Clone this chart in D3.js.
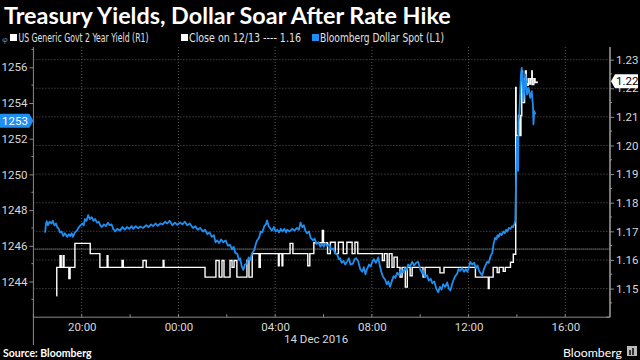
<!DOCTYPE html>
<html><head><meta charset="utf-8">
<script src="https://cdn.jsdelivr.net/npm/d3@7"></script>
<style>
html,body{margin:0;padding:0;background:#000;}
svg{display:block;}
text{font-family:"Open Sans","Noto Sans",sans-serif;}
</style></head>
<body>
<svg id="chart" width="640" height="360"></svg>
<script>
// ---------- DATA ----------
const title = "Treasury Yields, Dollar Soar After Rate Hike";
const legendLabels = ["US Generic Govt 2 Year Yield  (R1)", "Close on 12/13 ---- 1.16", "Bloomberg Dollar Spot  (L1)"];
const xTickTimes = ["13 20:00","14 00:00","14 04:00","14 08:00","14 12:00","14 16:00"];
const xMinorTimes = ["13 18:00","13 22:00","14 02:00","14 06:00","14 10:00","14 14:00"];
const dateLabel = "14 Dec 2016";
const leftTicks = [1244,1246,1248,1250,1252,1254,1256];
const leftMinor = [1243,1245,1247,1249,1251,1253,1255,1257];
const rightTicks = [1.15,1.16,1.17,1.18,1.19,1.20,1.21,1.22,1.23];
const rightMinor = [1.145,1.155,1.165,1.175,1.185,1.195,1.205,1.215,1.225];
const closeValue = 1.1638;
const lastDollar = 1253;
const lastYield = 1.22;

const dollarTimes = ["13 18:29","13 18:31","13 18:33","13 18:36","13 18:40","13 18:45","13 18:48","13 18:52","13 18:56","13 18:59","13 19:03","13 19:06","13 19:10","13 19:14","13 19:18","13 19:24","13 19:28","13 19:31","13 19:35","13 19:38","13 19:43","13 19:48","13 19:53","13 20:01","13 20:05","13 20:08","13 20:12","13 20:16","13 20:20","13 20:25","13 20:29","13 20:33","13 20:38","13 20:42","13 20:46","13 20:50","13 20:55","13 21:00","13 21:05","13 21:09","13 21:14","13 21:18","13 21:23","13 21:28","13 21:35","13 21:41","13 21:47","13 21:52","13 21:58","13 22:04","13 22:08","13 22:14","13 22:20","13 22:25","13 22:32","13 22:40","13 22:46","13 22:52","13 22:57","13 23:03","13 23:09","13 23:15","13 23:21","13 23:27","13 23:32","13 23:38","13 23:45","13 23:51","13 23:57","14 00:04","14 00:10","14 00:16","14 00:22","14 00:28","14 00:36","14 00:42","14 00:48","14 00:54","14 01:01","14 01:06","14 01:12","14 01:17","14 01:23","14 01:28","14 01:32","14 01:36","14 01:41","14 01:46","14 01:51","14 01:57","14 02:03","14 02:08","14 02:13","14 02:17","14 02:21","14 02:26","14 02:30","14 02:33","14 02:37","14 02:41","14 02:45","14 02:50","14 02:54","14 02:58","14 03:03","14 03:08","14 03:12","14 03:15","14 03:20","14 03:24","14 03:28","14 03:33","14 03:37","14 03:40","14 03:44","14 03:47","14 03:52","14 03:57","14 04:01","14 04:05","14 04:10","14 04:14","14 04:18","14 04:23","14 04:27","14 04:30","14 04:36","14 04:42","14 04:48","14 04:54","14 04:59","14 05:03","14 05:07","14 05:11","14 05:15","14 05:19","14 05:24","14 05:28","14 05:34","14 05:38","14 05:43","14 05:48","14 05:52","14 05:57","14 06:01","14 06:05","14 06:09","14 06:14","14 06:19","14 06:24","14 06:29","14 06:34","14 06:38","14 06:41","14 06:45","14 06:50","14 06:54","14 06:58","14 07:03","14 07:07","14 07:13","14 07:17","14 07:21","14 07:26","14 07:31","14 07:36","14 07:40","14 07:44","14 07:48","14 07:53","14 07:57","14 08:01","14 08:05","14 08:10","14 08:16","14 08:20","14 08:24","14 08:28","14 08:33","14 08:37","14 08:41","14 08:45","14 08:50","14 08:54","14 08:58","14 09:03","14 09:08","14 09:12","14 09:17","14 09:22","14 09:26","14 09:30","14 09:35","14 09:40","14 09:45","14 09:50","14 09:55","14 10:00","14 10:05","14 10:08","14 10:12","14 10:17","14 10:21","14 10:26","14 10:30","14 10:35","14 10:40","14 10:45","14 10:49","14 10:53","14 10:57","14 11:02","14 11:07","14 11:11","14 11:15","14 11:19","14 11:23","14 11:27","14 11:32","14 11:35","14 11:39","14 11:44","14 11:49","14 11:53","14 11:57","14 12:01","14 12:04","14 12:09","14 12:14","14 12:18","14 12:22","14 12:26","14 12:30","14 12:34","14 12:38","14 12:42","14 12:46","14 12:50","14 12:55","14 12:59","14 13:02","14 13:06","14 13:09","14 13:12","14 13:15","14 13:18","14 13:22","14 13:26","14 13:30","14 13:33","14 13:36","14 13:40","14 13:44","14 13:48","14 13:51","14 13:54","14 13:56","14 13:59","14 14:00","14 14:03","14 14:04","14 14:06","14 14:10","14 14:12","14 14:15","14 14:16","14 14:21","14 14:25","14 14:29","14 14:33","14 14:37","14 14:40","14 14:41","14 14:43","14 14:46"];
const dollarValues = [1246.74,1247.2,1247.38,1247.15,1247.35,1247.25,1247.4,1247.15,1247.25,1247.05,1246.95,1246.75,1246.8,1246.55,1246.7,1246.5,1246.65,1246.55,1246.7,1246.5,1246.75,1246.85,1247.05,1247.25,1247.15,1247.5,1247.4,1247.72,1247.5,1247.6,1247.4,1247.5,1247.3,1247.35,1247.15,1247.05,1247.2,1247.1,1247.3,1247.15,1247.2,1246.95,1246.8,1246.95,1246.85,1247.05,1246.9,1247.05,1246.95,1247.1,1246.95,1247.1,1246.98,1247.08,1247.0,1247.15,1247.05,1247.2,1247.1,1247.25,1247.12,1247.25,1247.2,1247.35,1247.25,1247.4,1247.15,1247.3,1247.18,1247.3,1247.2,1247.35,1247.15,1247.25,1247.0,1247.1,1246.9,1247.0,1246.8,1246.9,1246.65,1246.75,1246.5,1246.6,1246.2,1246.3,1246.15,1246.35,1246.2,1246.3,1246.0,1246.05,1245.8,1245.95,1245.6,1245.55,1245.2,1245.3,1244.85,1244.65,1244.95,1245.0,1245.35,1245.2,1245.6,1245.75,1246.1,1246.3,1246.45,1246.8,1246.75,1247.1,1247.2,1247.42,1247.1,1247.0,1246.85,1247.05,1246.8,1246.9,1246.75,1246.95,1246.8,1246.95,1246.75,1246.9,1246.8,1246.95,1246.85,1247.0,1246.9,1247.3,1247.05,1247.15,1246.85,1246.7,1246.8,1246.45,1246.3,1246.4,1246.1,1246.2,1245.95,1246.1,1245.95,1246.15,1246.0,1246.1,1245.8,1245.85,1245.6,1245.5,1245.25,1245.3,1245.05,1245.15,1244.95,1245.1,1245.3,1244.95,1245.0,1245.25,1245.3,1245.15,1244.7,1244.55,1244.8,1244.4,1244.7,1244.95,1244.85,1245.1,1245.25,1245.05,1245.35,1244.85,1244.5,1244.25,1244.1,1243.85,1244.0,1243.7,1244.05,1244.3,1244.2,1244.5,1244.35,1244.65,1244.5,1244.75,1244.6,1244.95,1244.85,1245.1,1244.9,1245.05,1245.1,1244.7,1244.45,1244.6,1244.25,1244.35,1244.05,1244.15,1243.9,1244.0,1243.6,1243.4,1243.7,1243.55,1243.85,1243.7,1243.95,1243.6,1243.5,1243.85,1244.1,1244.3,1244.45,1244.7,1244.6,1244.75,1244.55,1244.7,1244.55,1244.8,1245.1,1244.95,1245.05,1244.75,1244.9,1244.6,1244.45,1244.35,1244.7,1244.9,1245.1,1245.05,1245.45,1245.6,1246.1,1246.45,1246.35,1246.6,1246.5,1246.7,1246.6,1246.8,1246.7,1246.9,1246.8,1247.0,1246.95,1247.1,1247.05,1247.25,1247.4,1251.1,1252.07,1250.2,1252.98,1253.36,1255.6,1255.97,1254.87,1254.1,1255.6,1254.48,1254.85,1254.29,1254.66,1253.75,1252.8,1253.54,1253.36];

const yieldTimes = ["13 18:57","13 18:58","13 19:06","13 19:09","13 19:14","13 19:16","13 19:28","13 19:31","13 19:43","13 20:21","13 20:45","13 21:03","13 21:05","13 21:40","13 21:43","13 22:32","13 22:40","13 23:22","13 23:24","14 01:06","14 01:33","14 01:41","14 01:48","14 01:53","14 02:08","14 02:13","14 02:18","14 02:25","14 02:50","14 02:55","14 03:03","14 03:20","14 03:23","14 04:08","14 04:10","14 04:17","14 04:19","14 04:37","14 04:44","14 05:21","14 05:26","14 05:36","14 05:57","14 06:00","14 06:10","14 06:17","14 06:29","14 06:37","14 06:49","14 06:58","14 07:11","14 07:18","14 07:25","14 08:26","14 08:31","14 08:38","14 08:43","14 08:50","14 08:55","14 09:03","14 09:10","14 09:15","14 09:23","14 09:28","14 09:35","14 09:40","14 10:07","14 10:12","14 10:49","14 10:59","14 12:17","14 12:49","14 12:51","14 13:01","14 13:11","14 13:16","14 13:26","14 13:31","14 13:44","14 13:51","14 13:57","14 13:58","14 14:04","14 14:07","14 14:10","14 14:12","14 14:14","14 14:16","14 14:19","14 14:21","14 14:23","14 14:25","14 14:28","14 14:30","14 14:34","14 14:37","14 14:38","14 14:42","14 14:45","14 14:50"];
const yieldValues = [1.1475,1.1574,1.1615,1.1574,1.1615,1.1574,1.1535,1.1574,1.1658,1.1622,1.1574,1.1615,1.1574,1.1598,1.1574,1.1598,1.1574,1.1598,1.1574,1.154,1.1598,1.154,1.1598,1.154,1.1598,1.1574,1.1598,1.154,1.1598,1.154,1.1622,1.1574,1.1622,1.158,1.1622,1.158,1.1622,1.1658,1.1622,1.158,1.1622,1.166,1.1703,1.166,1.1622,1.1662,1.1622,1.1662,1.1622,1.1662,1.1622,1.1662,1.1622,1.1598,1.1622,1.1574,1.1622,1.1574,1.161,1.1574,1.154,1.1574,1.1505,1.1574,1.1545,1.1574,1.154,1.1574,1.1555,1.1574,1.154,1.150,1.154,1.1574,1.1556,1.1574,1.156,1.1574,1.1592,1.162,1.2203,1.2035,1.2105,1.2035,1.2105,1.226,1.2195,1.215,1.2233,1.226,1.2215,1.221,1.2233,1.2215,1.2233,1.226,1.2213,1.2233,1.222,1.2224];

// ---------- HELPERS ----------
function parseT(s){const [d,hm]=s.split(" ");const [h,m]=hm.split(":").map(Number);return new Date(2016,11,+d,h,m);}

const svg = d3.select("#chart");
const L = 33.4, R = 610, T = 47, B = 317.2;

const x = d3.scaleTime().domain([parseT("13 18:00"), parseT("14 17:51")]).range([L, R]);
const yL = d3.scaleLinear().domain([1242, 1242 + (B - T) / 17.85]).range([B, T]);
const yR = d3.scaleLinear().domain([1.14, 1.14 + (B - T) / 2862]).range([B, T]);

const grid = "#5a5a5a", axisCol = "#8a8a8a", labelCol = "#d8d8d8";
const tickFont = "Roboto, sans-serif";

// grid lines
svg.append("g").selectAll("line").data(rightTicks).join("line")
  .attr("x1", L).attr("x2", R).attr("y1", d => yR(d)).attr("y2", d => yR(d))
  .attr("stroke", grid).attr("stroke-dasharray", "1,2").attr("stroke-width", 1);
svg.append("g").selectAll("line").data(xTickTimes.map(parseT)).join("line")
  .attr("x1", d => x(d)).attr("x2", d => x(d)).attr("y1", T).attr("y2", B)
  .attr("stroke", grid).attr("stroke-dasharray", "1,2").attr("stroke-width", 1);

// close line
svg.append("line").attr("x1", L).attr("x2", R).attr("y1", yR(closeValue)).attr("y2", yR(closeValue))
  .attr("stroke", "#c8c8c8").attr("stroke-dasharray", "1,1").attr("stroke-width", 1);

// series
const yieldData = yieldTimes.map((t, i) => ({t: parseT(t), v: yieldValues[i]}));
const dollarData = dollarTimes.map((t, i) => ({t: parseT(t), v: dollarValues[i]}));

svg.append("path").datum(yieldData)
  .attr("d", d3.line().x(d => x(d.t)).y(d => yR(d.v)).curve(d3.curveStepAfter))
  .attr("fill", "none").attr("stroke", "#ffffff").attr("stroke-width", 1.4);
svg.append("path").datum(dollarData)
  .attr("d", d3.line().x(d => x(d.t)).y(d => yL(d.v)))
  .attr("fill", "none").attr("stroke", "#1f8ef1").attr("stroke-width", 1.8).attr("stroke-linejoin", "round");

// left axis
const gL = svg.append("g").attr("transform", `translate(${L},0)`)
  .call(d3.axisLeft(yL).tickValues(leftTicks).tickSize(4).tickPadding(2).tickFormat(d3.format("d")));
gL.select(".domain").remove();
gL.selectAll(".tick line").attr("stroke", axisCol);
gL.selectAll(".tick text").attr("fill", labelCol).style("font-size", "11.5px").style("font-family", tickFont);
svg.append("g").selectAll("line").data(leftMinor.filter(d => yL(d) >= T)).join("line")
  .attr("x1", L - 2).attr("x2", L).attr("y1", d => yL(d)).attr("y2", d => yL(d)).attr("stroke", axisCol);
svg.append("line").attr("x1", L).attr("x2", L).attr("y1", T).attr("y2", 345).attr("stroke", axisCol);

// right axis
const gR = svg.append("g").attr("transform", `translate(${R},0)`)
  .call(d3.axisRight(yR).tickValues(rightTicks).tickSize(4).tickPadding(2).tickFormat(d3.format(".2f")));
gR.select(".domain").remove();
gR.selectAll(".tick line").attr("stroke", axisCol);
gR.selectAll(".tick text").attr("fill", labelCol).style("font-size", "11.5px").style("font-family", tickFont);
svg.append("g").selectAll("line").data(rightMinor).join("line")
  .attr("x1", R).attr("x2", R + 2).attr("y1", d => yR(d)).attr("y2", d => yR(d)).attr("stroke", axisCol);
svg.append("line").attr("x1", R).attr("x2", R).attr("y1", T).attr("y2", B).attr("stroke", "#a0a0a0").attr("stroke-width", 1.5);
svg.append("line").attr("x1", R - 4).attr("x2", R).attr("y1", B).attr("y2", B).attr("stroke", "#a0a0a0");

// x axis
svg.append("line").attr("x1", L).attr("x2", R).attr("y1", B).attr("y2", B).attr("stroke", axisCol);
const gX = svg.append("g").attr("transform", `translate(0,${B})`)
  .call(d3.axisBottom(x).tickValues(xTickTimes.map(parseT)).tickSize(0).tickPadding(6).tickFormat(d3.timeFormat("%H:%M")));
gX.select(".domain").remove();
gX.selectAll(".tick text").attr("fill", labelCol).style("font-size", "11.5px").style("font-family", tickFont);
svg.append("g").selectAll("line").data(xMinorTimes.map(parseT).concat(xTickTimes.map(parseT))).join("line")
  .attr("x1", d => x(d)).attr("x2", d => x(d)).attr("y1", B).attr("y2", B - 3).attr("stroke", axisCol);
svg.append("text").attr("x", x(parseT("14 04:00")) + 41).attr("y", 343).attr("text-anchor", "middle")
  .attr("fill", labelCol).style("font-size", "11.5px").style("font-family", tickFont).text(dateLabel);

// value badges
const yb = yL(lastDollar);
svg.append("path").attr("d", `M0,${yb - 7}H${L - 4}L${L},${yb}L${L - 4},${yb + 7}H0Z`).attr("fill", "#1f8ef1");
svg.append("text").attr("x", 2).attr("y", yb + 4).attr("fill", "#fff").style("font-size", "11.5px")
  .style("font-family", tickFont).text(d3.format("d")(lastDollar));
const yr = yR(1.2224);
svg.append("path").attr("d", `M${R + 1},${yr}L${R + 5},${yr - 7}H638V${yr + 7}H${R + 5}Z`).attr("fill", "#fff");
svg.append("text").attr("x", R + 6).attr("y", yr + 4).attr("fill", "#000").style("font-size", "11.5px")
  .style("font-family", tickFont).text(d3.format(".2f")(lastYield));

// title
function fit(sel, w){const n = sel.node(); const cur = n.getComputedTextLength(); const fs = parseFloat(sel.style("font-size")); sel.style("font-size", (fs * w / cur) + "px");}
const tt = svg.append("text").attr("x", 4).attr("y", 24).attr("fill", "#fff")
  .style("font-family", "Lato, sans-serif").style("font-weight", "bold").style("font-size", "21px").text(title);
fit(tt, 447);

// legend
const legX = [{sq: 10, tx: 18.5, w: 130, col: "#fff"}, {sq: 181, tx: 189, w: 112, col: "#fff"}, {sq: 312, tx: 320, w: 124, col: "#1f8ef1"}];
legX.forEach((o, i) => {
  svg.append("rect").attr("x", o.sq).attr("y", 34).attr("width", 7).attr("height", 7).attr("fill", o.col);
  svg.append("text").attr("x", o.tx).attr("y", 42).attr("fill", "#e0e0e0")
    .attr("textLength", o.w).attr("lengthAdjust", "spacingAndGlyphs")
    .style("font-family", "'Liberation Sans Narrow','DejaVu Sans Condensed',sans-serif").style("font-size", "11.5px").text(legendLabels[i]);
});
svg.append("text").attr("x", 2).attr("y", 42).attr("fill", "#888").style("font-size", "8px").text("φ");

// footer
svg.append("text").attr("x", 3).attr("y", 357).attr("fill", "#fff").style("font-family", "Lato, sans-serif")
  .style("font-weight", "bold").style("font-size", "10.5px").text("Source: Bloomberg");
const bt = svg.append("text").attr("x", 563).attr("y", 357).attr("fill", "#fff").style("font-family", "Lato, sans-serif")
  .style("font-size", "13px").text("Bloomberg");
fit(bt, 59);
svg.append("rect").attr("x", 627).attr("y", 346).attr("width", 10).attr("height", 10).attr("fill", "#bbb");
svg.append("rect").attr("x", 629).attr("y", 350).attr("width", 2).attr("height", 5).attr("fill", "#333");
svg.append("rect").attr("x", 632).attr("y", 348).attr("width", 2).attr("height", 7).attr("fill", "#333");
</script>
</body></html>
